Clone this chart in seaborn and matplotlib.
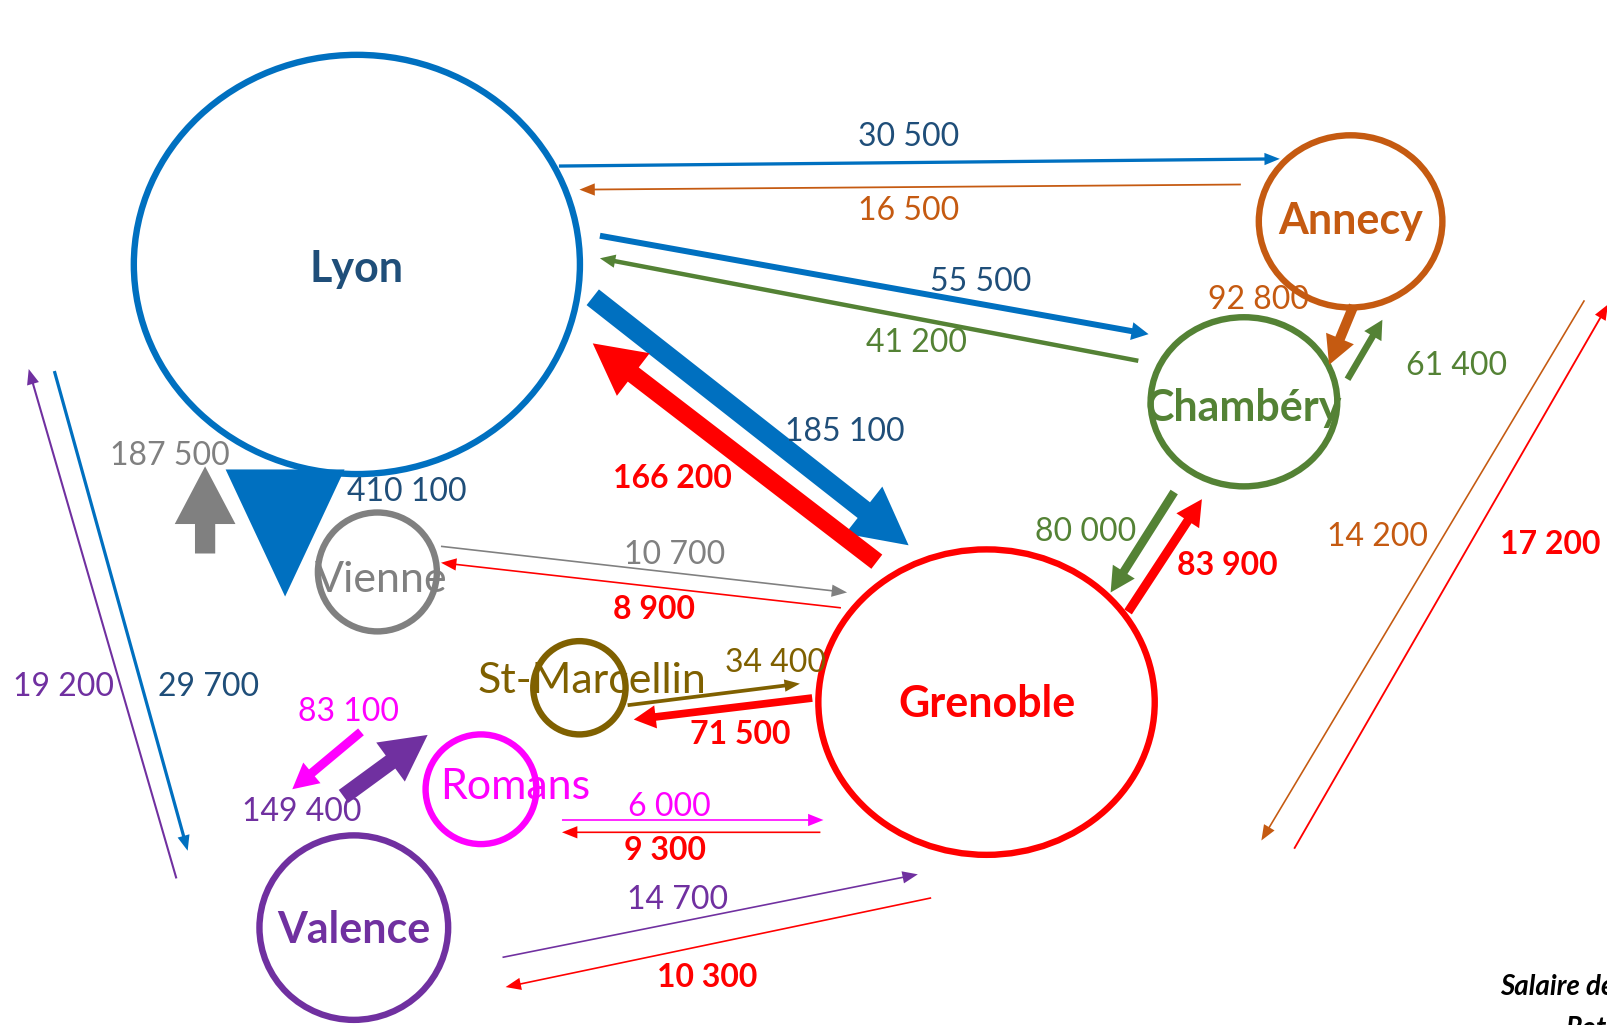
import matplotlib
matplotlib.use("Agg")
import matplotlib.pyplot as plt
from matplotlib.patches import Ellipse
import seaborn as sns

sns.set_theme(style="white")
plt.rcParams['font.family'] = ['Lato', 'DejaVu Sans']

# --- data -----------------------------------------------------------------
CITIES = ["Lyon", "Annecy", "Chambéry", "Vienne", "Grenoble",
          "St-Marcellin", "Romans", "Valence"]
CITY_COLORS = ["#0070C0", "#C55A11", "#548235", "#808080", "#FF0000",
               "#7F6000", "#FF00FF", "#7030A0"]
LABEL_COLORS = ["#1F4E79", "#C55A11", "#548235", "#808080", "#FF0000",
                "#7F6000", "#FF00FF", "#7030A0"]
CITY_BOLD = [True, True, True, False, True, False, False, True]

FLOW_FROM = ["Lyon", "Annecy", "Lyon", "Chambéry", "Lyon", "Grenoble",
             "Lyon", "Vienne", "Vienne", "Grenoble", "Chambéry", "Grenoble",
             "Annecy", "Chambéry", "Annecy", "Grenoble", "St-Marcellin",
             "Grenoble", "Romans", "Valence", "Romans", "Grenoble",
             "Valence", "Grenoble", "Lyon", "Valence"]
FLOW_TO = ["Annecy", "Lyon", "Chambéry", "Lyon", "Grenoble", "Lyon",
           "Vienne", "Lyon", "Grenoble", "Vienne", "Grenoble", "Chambéry",
           "Chambéry", "Annecy", "Grenoble", "Annecy", "Grenoble",
           "St-Marcellin", "Valence", "Romans", "Grenoble", "Romans",
           "Grenoble", "Valence", "Valence", "Lyon"]
FLOW_VALUES = [30500, 16500, 55500, 41200, 185100, 166200,
               410100, 187500, 10700, 8900, 80000, 83900,
               92800, 61400, 14200, 17200, 34400,
               71500, 83100, 149400, 6000, 9300,
               14700, 10300, 29700, 19200]

# --- layout (reference pixel grid 1568 x 1000) ----------------------------
CITY_XY = [(348, 258), (1317, 216), (1213, 392), (368, 558), (962, 685),
           (565, 671), (469, 770), (345, 905)]
CITY_WH = [(435, 409), (179, 168), (182, 165), (116, 116), (328, 298),
           (90, 91), (108, 107), (184, 180)]
CITY_TEXT_XY = [(348, 262), (1317, 216), (1213, 398), (372, 566), (962, 687),
                (577, 664), (502, 768), (345, 907)]

ARROW_START = [(545, 162), (1210, 180), (585, 230), (1110, 352), (578, 290),
               (855, 548), (278, 458), (200, 540), (430, 533), (820, 593),
               (1145, 480), (1100, 597), (1320, 298), (1314, 370),
               (1545, 293), (1262, 828), (612, 688), (792, 681), (352, 714),
               (335, 777), (548, 800), (800, 812), (490, 934), (908, 876),
               (53, 362), (172, 857)]
ARROW_END = [(1248, 155), (565, 185), (1120, 326), (585, 252), (886, 532),
             (578, 335), (278, 582), (200, 455), (826, 578), (430, 549),
             (1083, 578), (1172, 487), (1296, 356), (1348, 312),
             (1230, 820), (1568, 297), (780, 667), (618, 702), (285, 770),
             (417, 717), (803, 800), (548, 812), (895, 853), (493, 963),
             (183, 830), (28, 360)]
LABEL_XY = [(886, 134), (886, 206), (956, 275), (894, 335), (824, 421),
            (656, 467), (397, 480), (166, 445), (658, 541), (638, 595),
            (1059, 519), (1197, 552), (1227, 293), (1420, 357),
            (1343, 524), (1512, 531), (756, 647), (722, 717), (340, 695),
            (294, 792), (653, 787), (648, 830), (661, 878), (690, 954),
            (203, 670), (62, 670)]

fig = plt.figure(figsize=(16.08, 10.25), dpi=100)
ax = fig.add_axes([0, 0, 1, 1])
ax.set_xlim(0, 1568)
ax.set_ylim(1000, 0)
ax.axis("off")

idx = {c: i for i, c in enumerate(CITIES)}

for i, name in enumerate(CITIES):
    (x, y), (w, h) = CITY_XY[i], CITY_WH[i]
    ax.add_patch(Ellipse((x, y), w, h, fill=False, lw=4.6, ec=CITY_COLORS[i], zorder=2))

for k, v in enumerate(FLOW_VALUES):
    o = idx[FLOW_FROM[k]]
    (x0, y0), (x1, y1) = ARROW_START[k], ARROW_END[k]
    length = ((x1 - x0) ** 2 + (y1 - y0) ** 2) ** 0.5
    w = max(v / 9500, 1.6)
    hw = min(max(3 * w, 12), 116)
    hl = max(0.95 * hw, 15)
    if hl > 0.85 * length:   # huge flow: head only
        hl = length
    ax.arrow(x0, y0, x1 - x0, y1 - y0, width=w, head_width=hw, head_length=hl,
             length_includes_head=True, color=CITY_COLORS[o], lw=0, zorder=3)
    bold = FLOW_FROM[k] == "Grenoble"
    ax.text(LABEL_XY[k][0], LABEL_XY[k][1], f"{v:,}".replace(",", " "),
            color=LABEL_COLORS[o], fontsize=23, ha="center", va="center",
            fontweight="bold" if bold else "normal", zorder=4)

for i, name in enumerate(CITIES):
    ax.text(CITY_TEXT_XY[i][0], CITY_TEXT_XY[i][1], name, color=LABEL_COLORS[i],
            fontsize=31, ha="center", va="center",
            fontweight="bold" if CITY_BOLD[i] else "normal", zorder=5)

ax.text(1463, 963, "Salaire de", fontsize=20, fontweight="bold", style="italic",
        color="black", ha="left", va="center")
ax.text(1527, 1004, "Rot", fontsize=20, fontweight="bold", style="italic",
        color="black", ha="left", va="center")

fig.savefig("out.png", dpi=100)
